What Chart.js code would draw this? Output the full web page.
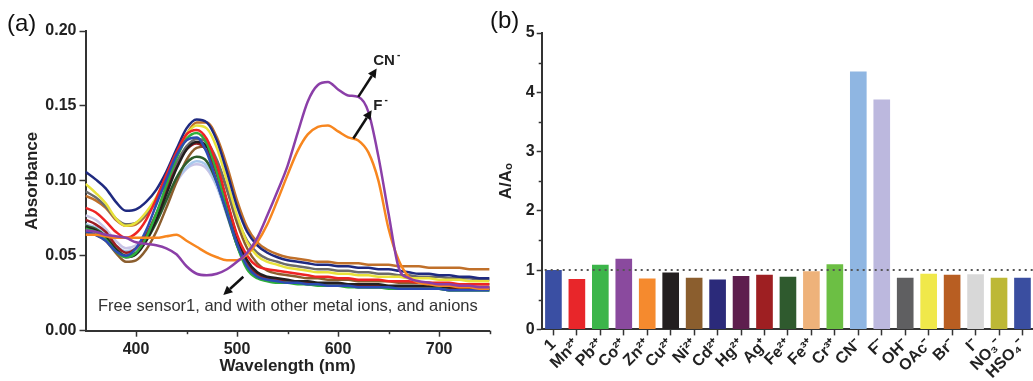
<!DOCTYPE html>
<html>
<head>
<meta charset="utf-8">
<script src="https://cdn.jsdelivr.net/npm/chart.js@4.4.0/dist/chart.umd.min.js"></script>
<style>
  html, body { margin: 0; padding: 0; background: #fff; width: 1033px; height: 381px; overflow: hidden; }
  #wrap { position: relative; width: 1033px; height: 381px; overflow: hidden; }
  canvas { position: absolute; top: 0; }
  #spectra { left: 0; }
  #ratios { left: 480px; }
  .panel { position: absolute; font-family: 'Liberation Sans', Arial, sans-serif; font-size: 24px; color: #111; line-height: 1; }
  #pa { left: 7px; top: 11px; }
  #pb { left: 490px; top: 8px; }
</style>
</head>
<body>
<div id="wrap">
  <canvas id="spectra" width="500" height="381"></canvas>
  <canvas id="ratios" width="560" height="381"></canvas>
  <div class="panel" id="pa">(a)</div>
  <div class="panel" id="pb">(b)</div>
</div>
<script>
// ---------- (a) UV-vis absorption spectra ----------
const wavelengths = [350,360,370,380,390,400,410,420,430,440,450,460,470,480,490,500,510,520,530,540,550,
                     560,570,580,590,600,610,620,630,640,650,660,670,680,690,700,710,720,730,740,750];
const wavelengthTicks = [400, 500, 600, 700];
const wavelengthMinorTicks = [450, 550, 650, 750];
const absorbanceTicks = [0, 0.05, 0.10, 0.15, 0.20];

const absCN = [0.067,0.066,0.064,0.063,0.062,0.059,0.058,0.057,0.055,0.051,0.043,0.038,0.037,0.038,0.041,0.046,0.052,0.062,0.077,0.093,0.110,
               0.132,0.153,0.164,0.166,0.161,0.157,0.156,0.146,0.116,0.078,0.042,0.035,0.033,0.032,0.031,0.031,0.030,0.030,0.029,0.029];
const absF  = [0.064,0.064,0.063,0.062,0.062,0.062,0.062,0.062,0.063,0.064,0.060,0.056,0.052,0.049,0.047,0.047,0.051,0.059,0.071,0.087,0.104,
               0.120,0.131,0.136,0.137,0.133,0.129,0.127,0.119,0.100,0.068,0.047,0.036,0.032,0.031,0.030,0.030,0.029,0.029,0.028,0.028];
const absSensor = [0.066,0.064,0.060,0.053,0.050,0.055,0.067,0.084,0.101,0.117,0.127,0.129,0.119,0.099,0.079,0.058,0.043,0.036,0.034,0.033,0.032,
                   0.032,0.031,0.031,0.030,0.030,0.030,0.029,0.029,0.029,0.029,0.028,0.028,0.028,0.028,0.028,0.027,0.027,0.027,0.027,0.027];
const absMn = [0.082,0.079,0.073,0.066,0.062,0.065,0.074,0.088,0.104,0.119,0.131,0.134,0.128,0.111,0.087,0.064,0.050,0.043,0.041,0.040,0.039,
               0.038,0.037,0.036,0.036,0.035,0.035,0.034,0.034,0.034,0.033,0.033,0.033,0.032,0.032,0.032,0.032,0.031,0.031,0.031,0.031];
const absCd = [0.106,0.101,0.095,0.086,0.080,0.081,0.086,0.094,0.106,0.121,0.135,0.141,0.139,0.127,0.106,0.083,0.066,0.057,0.052,0.049,0.047,
               0.046,0.045,0.044,0.044,0.043,0.043,0.042,0.042,0.041,0.041,0.040,0.039,0.038,0.038,0.037,0.037,0.036,0.036,0.035,0.035];
const absPb = [0.068,0.066,0.061,0.053,0.049,0.052,0.062,0.078,0.097,0.115,0.128,0.132,0.125,0.106,0.081,0.057,0.041,0.035,0.033,0.032,0.032,
               0.031,0.031,0.030,0.030,0.030,0.029,0.029,0.029,0.029,0.028,0.028,0.028,0.028,0.028,0.028,0.027,0.027,0.027,0.027,0.027];
const absOAc = [0.098,0.092,0.085,0.075,0.070,0.072,0.079,0.089,0.103,0.118,0.131,0.137,0.135,0.122,0.100,0.077,0.059,0.050,0.046,0.044,0.042,
                0.041,0.040,0.039,0.039,0.038,0.038,0.037,0.037,0.036,0.036,0.036,0.035,0.035,0.035,0.034,0.034,0.034,0.033,0.033,0.033];
const absCu = [0.069,0.067,0.062,0.054,0.049,0.051,0.060,0.074,0.091,0.108,0.121,0.126,0.123,0.108,0.086,0.063,0.047,0.039,0.036,0.035,0.034,
               0.033,0.033,0.032,0.032,0.032,0.031,0.031,0.031,0.031,0.030,0.030,0.030,0.030,0.030,0.029,0.029,0.029,0.029,0.029,0.029];
const absOH = [0.093,0.089,0.083,0.075,0.071,0.072,0.078,0.087,0.099,0.112,0.123,0.128,0.126,0.114,0.095,0.075,0.060,0.052,0.048,0.046,0.044,
               0.043,0.042,0.041,0.041,0.040,0.040,0.039,0.039,0.038,0.038,0.037,0.037,0.036,0.036,0.036,0.035,0.035,0.035,0.034,0.034];
const absAg = [0.074,0.071,0.066,0.057,0.052,0.055,0.064,0.078,0.094,0.110,0.121,0.125,0.120,0.104,0.082,0.060,0.045,0.038,0.035,0.034,0.033,
               0.032,0.032,0.031,0.031,0.031,0.030,0.030,0.030,0.030,0.029,0.029,0.029,0.029,0.029,0.029,0.028,0.028,0.028,0.028,0.028];
const absFe2 = [0.070,0.068,0.063,0.055,0.050,0.052,0.060,0.072,0.087,0.102,0.112,0.116,0.113,0.099,0.078,0.057,0.043,0.036,0.034,0.033,0.032,
                0.032,0.031,0.031,0.030,0.030,0.030,0.029,0.029,0.029,0.029,0.028,0.028,0.028,0.028,0.028,0.027,0.027,0.027,0.027,0.027];
const absNi = [0.066,0.064,0.060,0.052,0.046,0.047,0.054,0.066,0.082,0.099,0.114,0.122,0.123,0.113,0.094,0.072,0.055,0.045,0.040,0.038,0.037,
               0.036,0.035,0.035,0.034,0.034,0.034,0.033,0.033,0.033,0.033,0.032,0.032,0.032,0.032,0.031,0.031,0.031,0.031,0.031,0.031];
const absBr = [0.090,0.087,0.082,0.074,0.070,0.071,0.077,0.087,0.101,0.117,0.131,0.139,0.139,0.129,0.110,0.087,0.069,0.059,0.054,0.051,0.049,
               0.048,0.047,0.046,0.046,0.045,0.045,0.045,0.044,0.044,0.044,0.043,0.043,0.043,0.042,0.042,0.042,0.042,0.041,0.041,0.041];
const absHg = [0.071,0.069,0.064,0.057,0.053,0.055,0.062,0.073,0.087,0.100,0.109,0.113,0.110,0.097,0.077,0.057,0.043,0.037,0.034,0.033,0.032,
               0.032,0.031,0.031,0.031,0.030,0.030,0.030,0.029,0.029,0.029,0.029,0.028,0.028,0.028,0.028,0.028,0.028,0.028,0.028,0.028];
const absZn = [0.077,0.074,0.068,0.060,0.055,0.057,0.063,0.073,0.086,0.099,0.108,0.111,0.108,0.096,0.077,0.058,0.044,0.038,0.035,0.034,0.033,
               0.032,0.032,0.031,0.031,0.031,0.030,0.030,0.030,0.030,0.029,0.029,0.029,0.029,0.029,0.029,0.028,0.028,0.028,0.028,0.028];

// first entry is painted last (on top)
const spectraSeries = [
  { label: 'CN⁻',      values: absCN,     color: '#8b3fa8' },
  { label: 'F⁻',       values: absF,      color: '#f7861f' },
  { label: 'sensor 1', values: absSensor, color: '#2c4cb4' },
  { label: 'Mn²⁺',     values: absMn,     color: '#ef2424' },
  { label: 'Cd²⁺',     values: absCd,     color: '#1f2a80' },
  { label: 'Pb²⁺',     values: absPb,     color: '#2fae3c' },
  { label: 'OAc⁻',     values: absOAc,    color: '#e9e23a' },
  { label: 'Cu²⁺',     values: absCu,     color: '#231f20' },
  { label: 'OH⁻',      values: absOH,     color: '#6b6b6b' },
  { label: 'Ag⁺',      values: absAg,     color: '#9a1e24' },
  { label: 'Fe²⁺',     values: absFe2,    color: '#2d5e2c' },
  { label: 'Ni²⁺',     values: absNi,     color: '#8b5e2e' },
  { label: 'Br⁻',      values: absBr,     color: '#c0702a' },
  { label: 'Hg²⁺',     values: absHg,     color: '#a8c8ec' },
  { label: 'Zn²⁺',     values: absZn,     color: '#c8c4e6' }
];

// ---------- (b) A/A0 ratios ----------
const ions = ['1','Mn²⁺','Pb²⁺','Co²⁺','Zn²⁺','Cu²⁺','Ni²⁺','Cd²⁺','Hg²⁺','Ag⁺','Fe²⁺','Fe³⁺','Cr³⁺',
              'CN⁻','F⁻','OH⁻','OAc⁻','Br⁻','I⁻','NO₃⁻','HSO₄⁻'];
const ratios = [1.00,0.85,1.09,1.19,0.86,0.96,0.87,0.84,0.90,0.92,0.89,0.98,1.10,
                4.35,3.88,0.87,0.94,0.92,0.93,0.87,0.87];
const ionColors = ['#3a4fa3','#e8262a','#3cb54a','#8a4a9e','#f58a2e','#231f20','#8b5e2e','#2b2a7a','#5e1e4e','#9e1f22',
                   '#2f5a2e','#eeb27a','#6cbf44','#8fb6e2','#bcb8de','#5f5f61','#f0e84a','#b85e22','#d8d8d8','#bdb836','#3a4ea0'];
const ratioTicks = [0, 1, 2, 3, 4, 5];
const ratioMinorTicks = [0.5, 1.5, 2.5, 3.5, 4.5];
const ratioReference = 1;

const FONT = "'Liberation Sans', Arial, sans-serif";
const AXIS = '#333';
const TEXT = '#222';

// arrows and notes on the spectra, in data units
const spectraNotes = {
  arrows: [
    { from: [620, 0.156], to: [638.2, 0.175] },
    { from: [615.1, 0.1283], to: [633.3, 0.1471] },
    { from: [506.2, 0.036], to: [486.4, 0.0238] }
  ],
  tags: [
    { at: [634.8, 0.177], base: 'CN', sup: '-' },
    { at: [634.8, 0.1473], base: 'F', sup: '-' }
  ],
  caption: { at: [362.4, 0.0131], text: 'Free sensor1, and with other metal ions, and anions' }
};

function drawArrow(ctx, x1, y1, x2, y2) {
  const ang = Math.atan2(y2 - y1, x2 - x1);
  const head = 9, half = 4.5;
  const bx = x2 - head * Math.cos(ang), by = y2 - head * Math.sin(ang);
  ctx.beginPath();
  ctx.moveTo(x1, y1);
  ctx.lineTo(bx, by);
  ctx.stroke();
  ctx.beginPath();
  ctx.moveTo(x2, y2);
  ctx.lineTo(bx + half * Math.sin(ang), by - half * Math.cos(ang));
  ctx.lineTo(bx - half * Math.sin(ang), by + half * Math.cos(ang));
  ctx.closePath();
  ctx.fill();
}

const spectraDecor = {
  id: 'spectraDecor',
  afterDraw(chart) {
    const { ctx, scales: { x, y } } = chart;
    ctx.save();
    // minor ticks on the wavelength axis
    ctx.strokeStyle = AXIS;
    ctx.lineWidth = 1.5;
    const yb = y.getPixelForValue(0);
    wavelengthMinorTicks.forEach(v => {
      const px = Math.round(x.getPixelForValue(v)) + 0.5;
      ctx.beginPath();
      ctx.moveTo(px, yb);
      ctx.lineTo(px, yb + 3.5);
      ctx.stroke();
    });
    // arrows
    ctx.strokeStyle = '#111';
    ctx.fillStyle = '#111';
    ctx.lineWidth = 2.5;
    spectraNotes.arrows.forEach(a => {
      drawArrow(ctx, x.getPixelForValue(a.from[0]), y.getPixelForValue(a.from[1]),
                     x.getPixelForValue(a.to[0]), y.getPixelForValue(a.to[1]));
    });
    // ion tags
    ctx.fillStyle = '#222';
    ctx.textAlign = 'left';
    ctx.textBaseline = 'alphabetic';
    spectraNotes.tags.forEach(t => {
      const px = x.getPixelForValue(t.at[0]), py = y.getPixelForValue(t.at[1]);
      ctx.font = 'bold 15px ' + FONT;
      ctx.fillText(t.base, px, py);
      const w = ctx.measureText(t.base).width;
      ctx.font = 'bold 10px ' + FONT;
      ctx.fillText(t.sup, px + w + 2, py - 7);
    });
    // caption
    ctx.font = '16.5px ' + FONT;
    ctx.fillStyle = '#333';
    const c = spectraNotes.caption;
    ctx.fillText(c.text, x.getPixelForValue(c.at[0]), y.getPixelForValue(c.at[1]));
    ctx.restore();
  }
};

new Chart(document.getElementById('spectra'), {
  type: 'line',
  data: {
    datasets: spectraSeries.map(s => ({
      label: s.label,
      data: wavelengths.map((w, i) => ({ x: w, y: s.values[i] })),
      borderColor: s.color,
      borderWidth: 2.5,
      pointRadius: 0,
      fill: false,
      cubicInterpolationMode: 'monotone'
    }))
  },
  options: {
    responsive: false,
    animation: false,
    devicePixelRatio: 1,
    layout: { padding: { left: 0, top: 31, right: 10.4, bottom: 0 } },
    plugins: { legend: { display: false }, tooltip: { enabled: false } },
    scales: {
      x: {
        type: 'linear', min: 350, max: 750,
        afterBuildTicks(s) { s.ticks = wavelengthTicks.map(v => ({ value: v })); },
        afterFit(s) { s.height = 50.3; },
        border: { display: true, color: AXIS, width: 2 },
        grid: { drawOnChartArea: false, drawTicks: true, tickLength: 6, tickColor: AXIS, tickWidth: 1.5 },
        ticks: { padding: 3, color: TEXT,
                 font: { family: FONT, weight: 'bold', size: 16 }, callback: v => String(v) },
        title: { display: true, text: 'Wavelength (nm)', color: TEXT,
                 font: { family: FONT, weight: 'bold', size: 17 }, padding: { top: 0, bottom: 4 } }
      },
      y: {
        min: 0, max: 0.2,
        afterBuildTicks(s) { s.ticks = absorbanceTicks.map(v => ({ value: v })); },
        afterFit(s) { s.width = 85.5; },
        border: { display: true, color: AXIS, width: 2 },
        grid: { drawOnChartArea: false, drawTicks: true, tickLength: 6, tickColor: AXIS, tickWidth: 1.5 },
        ticks: { padding: 3, color: TEXT,
                 font: { family: FONT, weight: 'bold', size: 16 }, callback: v => v.toFixed(2) },
        title: { display: true, text: 'Absorbance', color: TEXT,
                 font: { family: FONT, weight: 'bold', size: 17 }, padding: { top: 22, bottom: 0 } }
      }
    }
  },
  plugins: [spectraDecor]
});

const ratioDecor = {
  id: 'ratioDecor',
  afterDatasetsDraw(chart) {
    const { ctx, chartArea, scales: { y } } = chart;
    ctx.save();
    // dotted reference level
    const py = y.getPixelForValue(ratioReference);
    ctx.strokeStyle = '#555';
    ctx.lineWidth = 2;
    ctx.setLineDash([2, 4]);
    ctx.beginPath();
    ctx.moveTo(chartArea.left + 3, py);
    ctx.lineTo(chartArea.right, py);
    ctx.stroke();
    ctx.setLineDash([]);
    // minor ticks on the ratio axis
    ctx.strokeStyle = AXIS;
    ctx.lineWidth = 1.5;
    ratioMinorTicks.forEach(v => {
      const ty = Math.round(y.getPixelForValue(v)) + 0.5;
      ctx.beginPath();
      ctx.moveTo(chartArea.left, ty);
      ctx.lineTo(chartArea.left - 3, ty);
      ctx.stroke();
    });
    ctx.restore();
  }
};

new Chart(document.getElementById('ratios'), {
  type: 'bar',
  data: {
    labels: ions,
    datasets: [{
      data: ratios,
      backgroundColor: ionColors,
      borderWidth: 0,
      barPercentage: 0.71,
      categoryPercentage: 1
    }]
  },
  options: {
    responsive: false,
    animation: false,
    devicePixelRatio: 1,
    layout: { padding: { left: 0, top: 33, right: 5.8, bottom: 0 } },
    plugins: { legend: { display: false }, tooltip: { enabled: false } },
    scales: {
      x: {
        afterFit(s) { s.height = 51.6; },
        border: { display: true, color: AXIS, width: 2 },
        grid: { offset: false, drawOnChartArea: false, drawTicks: true, tickLength: 6, tickColor: AXIS, tickWidth: 1.5 },
        ticks: { autoSkip: false, minRotation: 45, maxRotation: 45, padding: 0, color: TEXT,
                 font: { family: FONT, weight: 'bold', size: 16 } }
      },
      y: {
        min: 0, max: 5,
        afterBuildTicks(s) { s.ticks = ratioTicks.map(v => ({ value: v })); },
        afterFit(s) { s.width = 61.7; },
        border: { display: true, color: AXIS, width: 2 },
        grid: { drawOnChartArea: false, drawTicks: true, tickLength: 5, tickColor: AXIS, tickWidth: 1.5 },
        ticks: { padding: 2, color: TEXT,
                 font: { family: FONT, weight: 'bold', size: 16 } },
        title: { display: true, text: 'A/Aₒ', color: TEXT,
                 font: { family: FONT, weight: 'bold', size: 17 }, padding: { top: 16, bottom: 0 } }
      }
    }
  },
  plugins: [ratioDecor]
});
</script>
</body>
</html>
